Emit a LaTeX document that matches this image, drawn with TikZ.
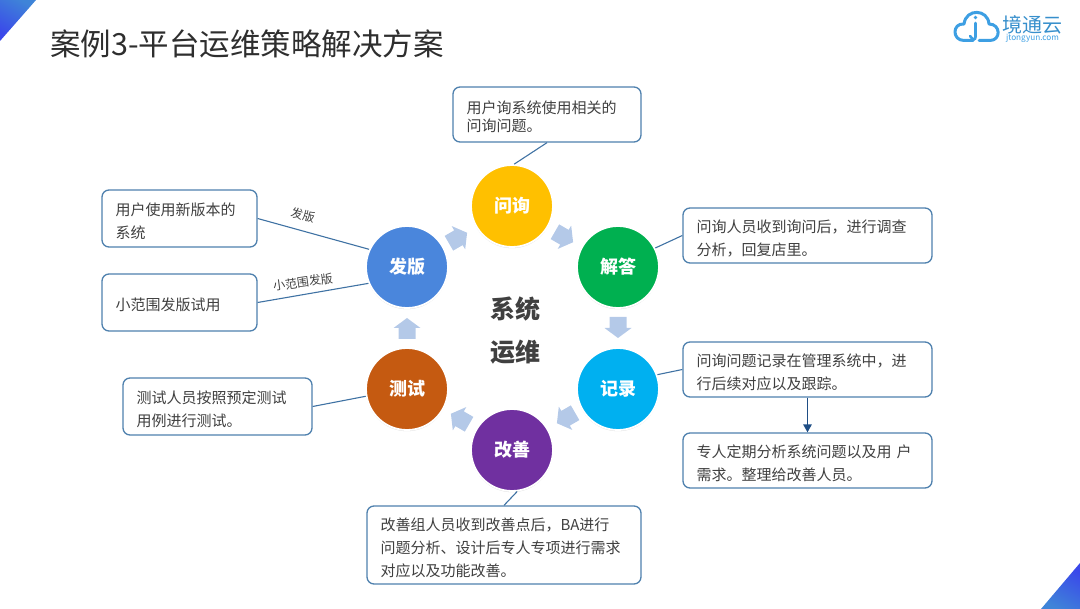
\documentclass[tikz,border=0pt]{standalone}
\usepackage{fontspec}
\setmainfont{Noto Sans CJK SC}
\usetikzlibrary{shadows,arrows.meta}
\definecolor{boxline}{HTML}{4F81AE}
\definecolor{linkline}{HTML}{3F72A3}
\definecolor{txt}{HTML}{404040}
\definecolor{blockc}{HTML}{B4C9E8}
\definecolor{logoc}{HTML}{3D9FE3}
\definecolor{cornerA}{HTML}{3F84D8}
\definecolor{cornerB}{HTML}{3A48EA}
\definecolor{cAsk}{HTML}{FFC000}
\definecolor{cAns}{HTML}{00B050}
\definecolor{cRec}{HTML}{00B0F0}
\definecolor{cImp}{HTML}{7030A0}
\definecolor{cTest}{HTML}{C55A11}
\definecolor{cRel}{HTML}{4A86DC}
\definecolor{darkarrow}{HTML}{1F4E85}
\tikzset{
  note/.style={draw=boxline,line width=1.3pt,rounded corners=7pt,fill=white,align=left,
    inner xsep=13.5pt,inner ysep=0pt,text=txt,font=\fontsize{15}{23}\selectfont,
    execute at begin node={\rule{0pt}{18pt}}},
  disc/.style={circle,draw=white,line width=1.8pt,minimum size=82pt,inner sep=0pt,text=white,
    font=\fontsize{18}{20}\selectfont\bfseries,
    drop shadow={opacity=.28,shadow xshift=0pt,shadow yshift=-1.2pt}},
  link/.style={draw=linkline,line width=1.1pt},
  flowarrow/.pic={\fill[blockc] (-10.5,-8.5) -- (0.5,-8.5) -- (0.5,-13.5) -- (10.5,0) -- (0.5,13.5) -- (0.5,8.5) -- (-10.5,8.5) -- cycle;},
  tag/.style={text=txt,inner sep=0pt,font=\fontsize{12}{13}\selectfont},
  hub/.style={text=txt,inner sep=0pt,font=\fontsize{25}{27}\selectfont\bfseries}
}
\begin{document}
\begin{tikzpicture}[x=1pt,y=-1pt]
\useasboundingbox (0,0) rectangle (1080,609);
% corners
\begin{scope}
\clip (0,0) -- (36,0) -- (0,41) -- cycle;
\shade[top color=cornerA,bottom color=cornerB,shading angle=-30] (0,0) rectangle (36,41);
\end{scope}
\begin{scope}
\clip (1080,563) -- (1080,609) -- (1041,609) -- cycle;
\shade[top color=cornerB,bottom color=cornerA,shading angle=-30] (1041,563) rectangle (1080,609);
\end{scope}
% title
\node[anchor=west,inner sep=0pt,text=black!82,font=\fontsize{30.5}{32}\selectfont] (title) at (50,44) {案例3-平台运维策略解决方案};
% logo
\draw[logoc,line width=3pt,line cap=round,line join=round]
  (973,40.5) -- (964,40.5) .. controls (952,40.5) and (952,23) .. (964,24)
  .. controls (966,8) and (988,9) .. (989,24)
  .. controls (1001,24) and (1001,40.5) .. (990,40.5) -- (979,40.5);
\draw[logoc,line width=2.6pt,line cap=round] (975.5,23) -- (975.5,37) .. controls (975.5,40) and (973,40.5) .. (970,36);
\fill[logoc] (975.5,17.5) circle (1.9pt);
\node[inner sep=0pt,text=logoc!90!black,font=\fontsize{20}{22}\selectfont] (logoname) at (1032.5,25) {境通云};
\node[inner sep=0pt,text=logoc,font=\fontsize{8.2}{9}\selectfont] (logourl) at (1032.5,38.5) {jtongyun.com};
% discs
\node[disc,fill=cAsk] (ask) at (512,206) {问询};
\node[disc,fill=cAns] (ans) at (618,267) {解答};
\node[disc,fill=cRec] (rec) at (618,389) {记录};
\node[disc,fill=cImp] (imp) at (512,450) {改善};
\node[disc,fill=cTest] (tst) at (407,389) {测试};
\node[disc,fill=cRel] (rel) at (407,267) {发版};
% centre
\node[hub] (hubA) at (515,309) {系统};
\node[hub] (hubB) at (515,352) {运维};
% block arrows
\pic[rotate=30] at (458,238) {flowarrow};
\pic[rotate=-30] at (564,237) {flowarrow};
\pic[rotate=-90] at (618,327.5) {flowarrow};
\pic[rotate=210] at (566,418) {flowarrow};
\pic[rotate=150] at (460,419) {flowarrow};
\pic[rotate=90] at (407,328.5) {flowarrow};
% notes
\node[note,text width=161pt,minimum height=55pt] (nAsk) at (547,114.5) {用户询系统使用相关的\\[-5pt]问询问题。};
\node[note,text width=222pt,minimum height=55pt] (nAns) at (807.5,235.5) {问询人员收到询问后，进行调查\\分析，回复店里。};
\node[note,text width=222pt,minimum height=55pt] (nRec) at (807.5,369.5) {问询问题记录在管理系统中，进\\行后续对应以及跟踪。};
\node[note,text width=222pt,minimum height=55pt] (nMore) at (807.5,460.5) {专人定期分析系统问题以及用 户\\需求。整理给改善人员。};
\node[note,text width=247pt,minimum height=78pt] (nImp) at (504,545) {改善组人员收到改善点后，BA进行\\问题分析、设计后专人专项进行需求\\对应以及功能改善。};
\node[note,text width=162pt,minimum height=57pt] (nTst) at (217.5,406.5) {测试人员按照预定测试\\用例进行测试。};
\node[note,text width=128pt,minimum height=57pt] (nRelA) at (179.5,218.5) {用户使用新版本的\\系统};
\node[note,text width=128pt,minimum height=57pt] (nRelB) at (179.5,302.5) {小范围发版试用};
% connectors
\draw[link] (nAsk.south) -- (ask.87);
\draw[link] (ans.27) -- (nAns.west);
\draw[link] (rec.20) -- (nRec.west);
\draw[link] (imp.-83) -- (nImp.north);
\draw[link] (tst.190) -- (nTst.east);
\draw[link] (rel.155) -- (nRelA.east);
\draw[link] (rel.203) -- (nRelB.east);
\draw[draw=darkarrow,fill=darkarrow,line width=1.5pt,-{Triangle[length=8pt,width=8.5pt]}] (nRec.south) -- (nMore.north);
% labels
\node[tag,rotate=-15] (tagA) at (303,215) {发版};
\node[tag,rotate=8] (tagB) at (303,282) {小范围发版};
\end{tikzpicture}
\end{document}
